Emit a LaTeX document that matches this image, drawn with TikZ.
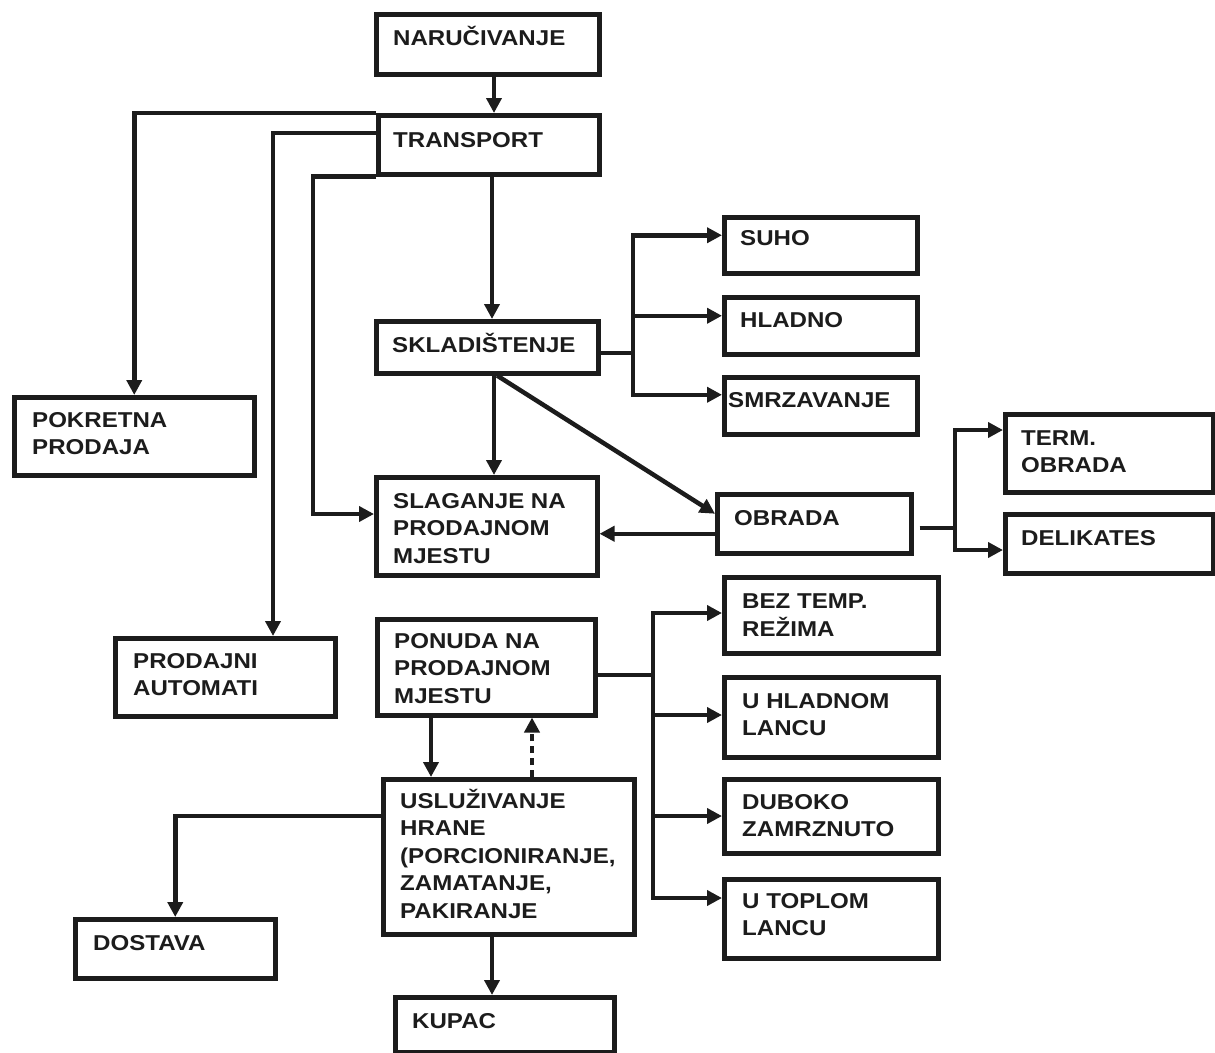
\documentclass[tikz,border=0pt]{standalone}
\usepackage{fontspec}
\newfontfamily\lab[FakeStretch=1.12]{Liberation Sans}
\usetikzlibrary{arrows.meta}
\definecolor{ink}{RGB}{28,28,28}
\tikzset{
  box/.style={draw=ink, line width=4.5pt, inner sep=0pt, anchor=north west, rectangle},
  txt/.style={inner sep=0pt, anchor=north west, align=left, text=ink,
    font={\lab\bfseries\fontsize{21.5}{27.5}\selectfont}},
  conn/.style={draw=ink, line width=4.5pt},
  arr/.style={conn, -{Triangle[length=15pt,width=15pt]}},
  dotarr/.style={draw=ink, line width=4pt, dash pattern=on 7pt off 5pt, -{Triangle[length=15pt,width=15pt]}}
}
\newcommand\bx[5]{\node[box, minimum width={((#4)-(#2))*1pt}, minimum height={((#5)-(#3))*1pt}] (#1) at (#2,#3) {};}
\newcommand\tx[4]{\node[txt] (#1) at (#2,{#3-19.25}) {\strut #4};}
\begin{document}
\begin{tikzpicture}[x=1pt,y=-1pt]
\useasboundingbox (0,0) rectangle (1215,1052);
% boxes
\bx{nar}{374}{12}{597}{72}
\bx{trans}{376}{113}{597}{172}
\bx{skl}{374}{319}{596}{371}
\bx{suho}{722}{215}{915}{271}
\bx{hlad}{722}{295}{915}{352}
\bx{smrz}{722}{375}{915}{432}
\bx{pok}{12}{395}{252}{473}
\bx{slag}{374}{475}{595}{573}
\bx{obr}{715}{492}{909}{551}
\bx{term}{1003}{412}{1211}{490}
\bx{deli}{1003}{512}{1211}{571}
\bx{bez}{722}{575}{936}{651}
\bx{uhl}{722}{675}{936}{755}
\bx{dub}{722}{777}{936}{851}
\bx{utop}{722}{877}{936}{956}
\bx{auto}{113}{636}{333}{714}
\bx{pon}{375}{617}{593}{713}
\bx{usl}{381}{777}{632}{932}
\bx{dost}{73}{917}{273}{976}
\bx{kup}{393}{995}{612}{1050}
% texts
\tx{nar-t}{393}{45}{NARUČIVANJE}
\tx{trans-t}{393}{147}{TRANSPORT}
\tx{skl-t}{392}{352}{SKLADIŠTENJE}
\tx{suho-t}{740}{245}{SUHO}
\tx{hlad-t}{740}{327}{HLADNO}
\tx{smrz-t}{728}{407}{SMRZAVANJE}
\tx{pok-t}{32}{427}{POKRETNA\\PRODAJA}
\tx{slag-t}{393}{508}{SLAGANJE NA\\PRODAJNOM\\MJESTU}
\tx{obr-t}{734}{525}{OBRADA}
\tx{term-t}{1021}{445}{TERM.\\OBRADA}
\tx{deli-t}{1021}{545}{DELIKATES}
\tx{bez-t}{742}{608}{BEZ TEMP.\\REŽIMA}
\tx{uhl-t}{742}{708}{U HLADNOM\\LANCU}
\tx{dub-t}{742}{809}{DUBOKO\\ZAMRZNUTO}
\tx{utop-t}{742}{908}{U TOPLOM\\LANCU}
\tx{auto-t}{133}{668}{PRODAJNI\\AUTOMATI}
\tx{pon-t}{394}{648}{PONUDA NA\\PRODAJNOM\\MJESTU}
\tx{usl-t}{400}{808}{USLUŽIVANJE\\HRANE\\(PORCIONIRANJE,\\ZAMATANJE,\\PAKIRANJE}
\tx{dost-t}{93}{950}{DOSTAVA}
\tx{kup-t}{412}{1028}{KUPAC}
% connectors
\draw[arr] (nar.south -| 494,0) -- (trans.north -| 494,0);
\draw[arr] (trans.north west) -| (pok.north);
\draw[arr] (trans.west |- 0,133) -| (auto.north -| 273,0);
\draw[arr] (trans.south west) -| (313,514) -- (slag.west |- 0,514);
\draw[arr] (trans.south -| 492,0) -- (skl.north -| 492,0);
\draw[arr] (skl.south -| 494,0) -- (slag.north -| 494,0);
\draw[arr] (skl.south -| 497,0) -- ([yshift=10pt]obr.west);
\coordinate (sb) at (633,353);
\draw[conn] (skl.east |- sb) -- (sb);
\draw[arr] (sb) |- ([yshift=10pt]suho.west);
\draw[arr] (sb) |- ([yshift=10pt]hlad.west);
\draw[arr] (sb) |- ([yshift=11pt]smrz.west);
\coordinate (ow) at ([yshift=-10pt]obr.west);
\draw[arr] (ow) -- (slag.east |- ow);
\coordinate (ob) at (955,528);
\coordinate (oe) at ([xshift=6pt]obr.east);
\draw[conn] (oe |- ob) -- (ob);
\draw[arr] (ob) |- (term.west |- 0,430);
\draw[arr] (ob) |- (deli.west |- 0,550);
\coordinate (pb) at (653,675);
\draw[conn] (pon.east |- pb) -- (pb);
\draw[arr] (pb) |- (bez.west |- 0,613);
\draw[arr] (pb) |- (uhl.west |- 0,715);
\draw[arr] (pb) |- (dub.west |- 0,816);
\draw[arr] (pb) |- (utop.west |- 0,898);
\draw[arr] (pon.south -| 431,0) -- (usl.north -| 431,0);
\draw[dotarr] (usl.north -| 532,0) -- (pon.south -| 532,0);
\draw[arr] (usl.west |- 0,816) -| (dost.north);
\draw[arr] (usl.south -| 492,0) -- (kup.north -| 492,0);
\end{tikzpicture}
\end{document}
